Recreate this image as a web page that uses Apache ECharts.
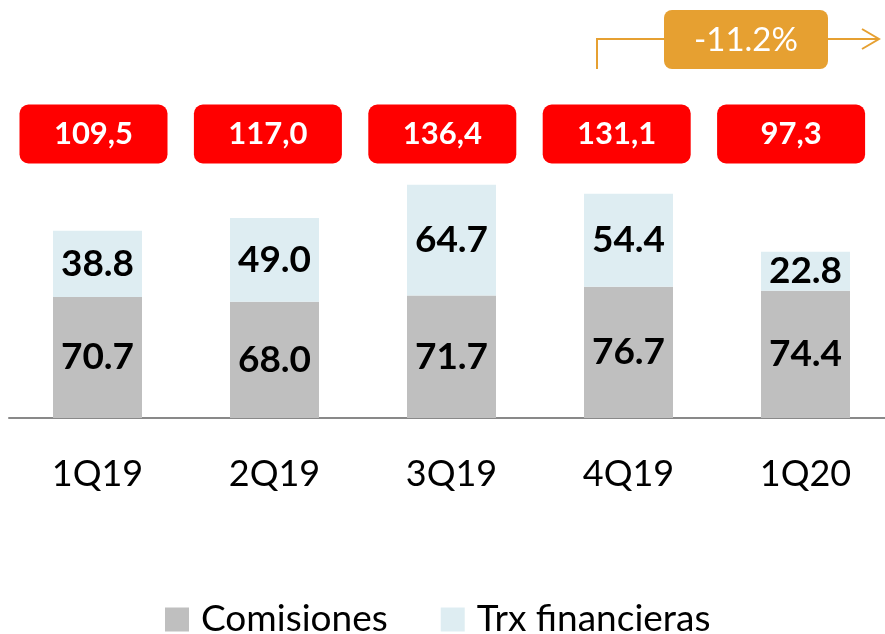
<!DOCTYPE html>
<html>
<head>
<meta charset="utf-8">
<script src="https://cdn.jsdelivr.net/npm/echarts@6/dist/echarts.min.js"></script>
<style>
  html, body { margin: 0; padding: 0; background: #fff; }
  #main { width: 885px; height: 634px; }
</style>
</head>
<body>
<div id="main"></div>
<script>
const categories = ["1Q19", "2Q19", "3Q19", "4Q19", "1Q20"];
const comisiones = [70.7, 68.0, 71.7, 76.7, 74.4];
const trxFinancieras = [38.8, 49.0, 64.7, 54.4, 22.8];
const totals = [109.5, 117.0, 136.4, 131.1, 97.3];
const changeLabel = "-11.2%";

const FONT = "Lato";
const chart = echarts.init(document.getElementById("main"));

const valueLabel = {
  show: true,
  position: "inside",
  color: "#000",
  fontFamily: FONT,
  fontWeight: "bold",
  fontSize: 37,
  formatter: (p) => p.value.toFixed(1)
};

const option = {
  animation: false,
  grid: { left: 9, right: -9, top: 76, bottom: 216, outerBoundsMode: "none", containLabel: false },
  xAxis: {
    type: "category",
    data: categories,
    axisTick: { show: false },
    axisLine: { lineStyle: { color: "#898989", width: 2 } },
    axisLabel: { color: "#000", fontFamily: FONT, fontSize: 36, margin: 38 }
  },
  yAxis: { type: "value", min: 0, max: 200, show: false, splitLine: { show: false } },
  legend: {
    data: ["Comisiones", "Trx financieras"],
    top: 596,
    left: 160,
    itemWidth: 24,
    itemHeight: 24,
    itemGap: 53,
    icon: "rect",
    textStyle: { fontFamily: FONT, fontSize: 37, color: "#000", padding: [0, 0, 0, 7] }
  },
  series: [
    {
      name: "Comisiones",
      type: "bar",
      stack: "total",
      barWidth: 89,
      data: comisiones,
      itemStyle: { color: "#BFBFBF" },
      label: valueLabel
    },
    {
      name: "Trx financieras",
      type: "bar",
      stack: "total",
      barWidth: 89,
      data: trxFinancieras,
      itemStyle: { color: "#DEEDF2" },
      label: valueLabel
    },
    {
      name: "Total",
      type: "custom",
      data: totals,
      z: 10,
      renderItem: (params, api) => {
        // boxes sit a little left of the bars, drifting further left to the right
        const x = api.coord([api.value(0), 0])[0] - 4 - 2.6 * params.dataIndex;
        const w = 148, h = 59, cy = 134;
        return {
          type: "group",
          children: [
            {
              type: "rect",
              shape: { x: x - w / 2, y: cy - h / 2, width: w, height: h, r: 9 },
              style: { fill: "#FF0000" }
            },
            {
              type: "text",
              style: {
                x: x, y: cy,
                text: api.value(1).toFixed(1).replace(".", ","),
                fill: "#fff",
                font: "bold 31px " + FONT,
                align: "center",
                verticalAlign: "middle"
              }
            }
          ]
        };
      },
      encode: { x: 0, y: 1 }
    }
  ],
  graphic: [
    {
      type: "polyline",
      shape: { points: [[597, 69], [597, 39], [664, 39]] },
      style: { stroke: "#E6A031", lineWidth: 2, fill: null }
    },
    {
      type: "polyline",
      shape: { points: [[828, 39], [878, 39]] },
      style: { stroke: "#E6A031", lineWidth: 2, fill: null }
    },
    {
      type: "polyline",
      shape: { points: [[862, 29], [879, 39], [862, 49]] },
      style: { stroke: "#E6A031", lineWidth: 2, fill: null }
    },
    {
      type: "rect",
      shape: { x: 664, y: 10, width: 164, height: 59, r: 8 },
      style: { fill: "#E6A031" }
    },
    {
      type: "text",
      style: {
        x: 746, y: 40,
        text: changeLabel,
        fill: "#fff",
        font: "33px " + FONT,
        align: "center",
        verticalAlign: "middle"
      }
    }
  ]
};

chart.setOption(option);
window.addEventListener("resize", () => chart.resize());
</script>
</body>
</html>
